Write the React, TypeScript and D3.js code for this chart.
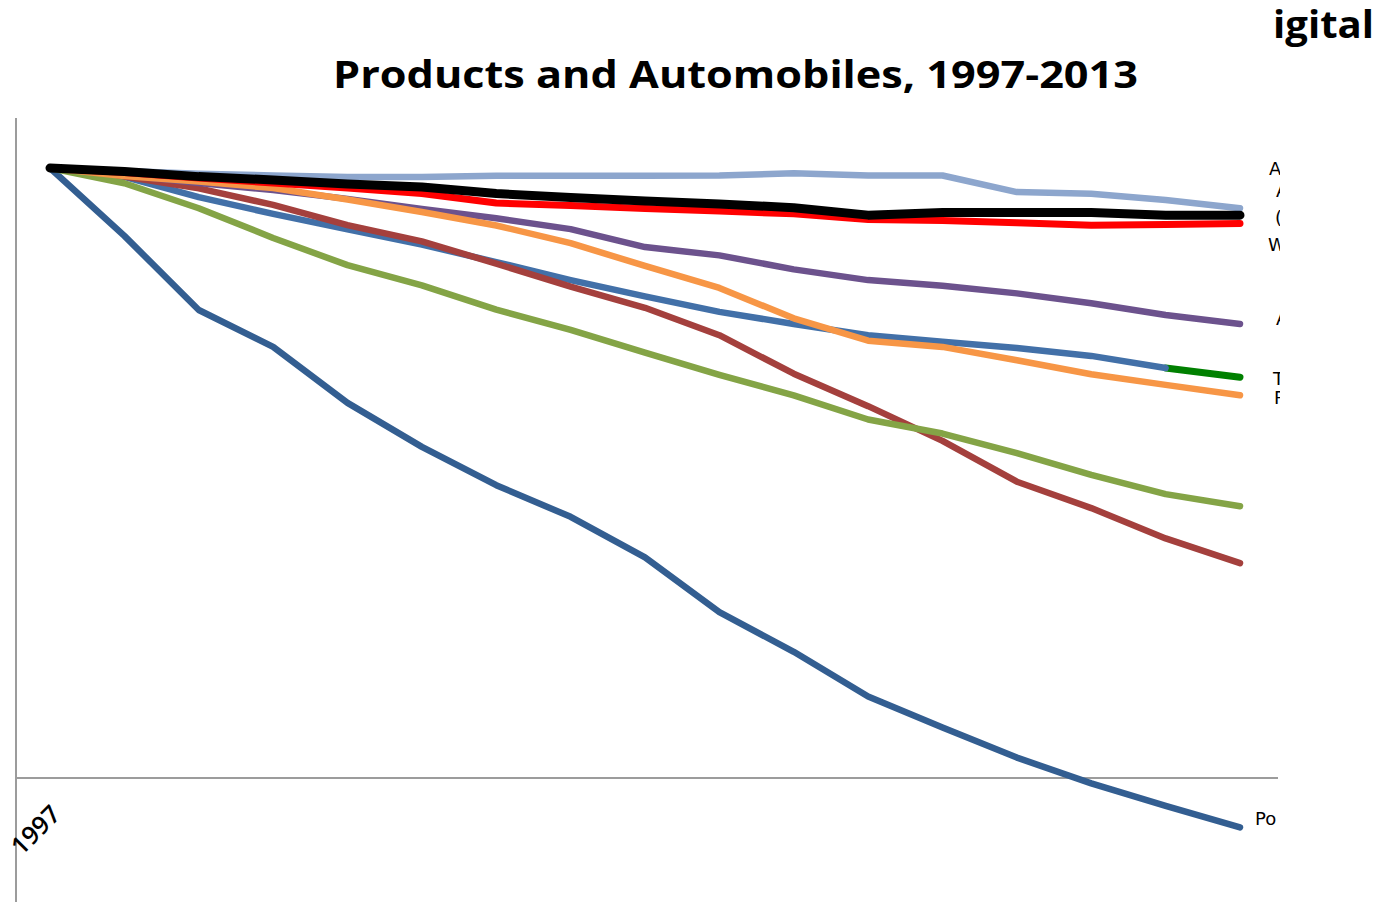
import React from "react";
import * as d3 from "d3";

// Price indexes, 1997 = 100 (log scale)
const years = d3.range(1997, 2014);

const seriesLightBlue = [100, 98.9, 97.9, 97.2, 96.7, 96.7, 97.1, 97.1, 97.1, 97.2, 98.0, 97.2, 97.2, 91.3, 90.7, 88.6, 85.9];
const seriesBlack = [100, 98.7, 96.8, 95.6, 94.1, 93.1, 90.8, 89.5, 88.3, 87.3, 86.1, 83.7, 84.5, 84.5, 84.5, 83.7, 83.7];
const seriesRed = [100, 98.3, 96.3, 94.5, 92.7, 90.8, 87.6, 86.8, 85.8, 85.0, 84.1, 82.3, 82.0, 81.3, 80.6, 80.8, 81.1];
const seriesPurple = [100, 97.4, 94.5, 92.0, 89.0, 85.7, 82.7, 79.4, 74.2, 71.9, 68.2, 65.5, 64.1, 62.3, 60.0, 57.4, 55.5];
const seriesOrange = [100, 97.0, 95.0, 92.7, 88.8, 84.7, 80.5, 75.3, 69.1, 63.6, 56.7, 52.1, 50.9, 48.4, 45.9, 44.1, 42.4];
const seriesSteel = [100, 96.7, 89.6, 84.1, 79.3, 74.9, 70.1, 65.5, 61.6, 58.1, 55.5, 53.2, 51.9, 50.7, 49.2, 47.0];
const seriesGreen = [47.0, 45.4]; // 2012-2013
const seriesBrown = [100, 96.8, 92.6, 87.0, 80.6, 75.8, 69.7, 63.9, 59.0, 53.2, 46.0, 40.7, 35.7, 30.6, 27.7, 24.7, 22.5];
const seriesOlive = [100, 94.4, 85.9, 76.8, 69.3, 64.2, 58.6, 54.3, 49.8, 45.8, 42.4, 38.7, 36.7, 34.1, 31.4, 29.2, 27.9];
const seriesDarkBlue = [100, 77.4, 58.5, 50.9, 41.2, 34.9, 30.2, 26.8, 23.0, 18.7, 16.1, 13.6, 12.1, 10.8, 9.8, 9.0, 8.3];

const titleLine1 = "igital";
const titleLine2 = "Products and Automobiles, 1997-2013";
const firstYearLabel = "1997";

// end labels: left edge and the index level they are centred on
const endLabels = [
  { text: "A", left: 1269, value: 99.8 },
  { text: "A", left: 1276, value: 91.7 },
  { text: "(", left: 1275, value: 83.1 },
  { text: "W", left: 1268, value: 74.9 },
  { text: "A", left: 1276, value: 56.7 },
  { text: "T", left: 1273, value: 45.1 },
  { text: "P", left: 1274, value: 42.0 },
  { text: "Po", left: 1255, value: 8.57 },
];

type Series = { name: string; values: number[]; start: number; color: string; width: number };

// drawing order: first drawn sits underneath
const series: Series[] = [
  { name: "darkblue", values: seriesDarkBlue, start: 1997, color: "#335E91", width: 6.5 },
  { name: "green", values: seriesGreen, start: 2012, color: "#008000", width: 7 },
  { name: "steel", values: seriesSteel, start: 1997, color: "#4270A8", width: 6.5 },
  { name: "brown", values: seriesBrown, start: 1997, color: "#A4403D", width: 6.5 },
  { name: "olive", values: seriesOlive, start: 1997, color: "#84A446", width: 6.5 },
  { name: "purple", values: seriesPurple, start: 1997, color: "#6C528D", width: 6.5 },
  { name: "orange", values: seriesOrange, start: 1997, color: "#F79646", width: 6.5 },
  { name: "lightblue", values: seriesLightBlue, start: 1997, color: "#8DA6CD", width: 6.5 },
  { name: "red", values: seriesRed, start: 1997, color: "#FF0000", width: 7 },
  { name: "black", values: seriesBlack, start: 1997, color: "#000000", width: 9 },
];

const W = 1382;
const H = 902;

export default function App() {
  const x = d3.scaleLinear().domain([1997, 2013]).range([50, 1240]);
  const y = d3.scaleLog().domain([10, 100]).range([778, 168]);

  const line = d3
    .line<[number, number]>()
    .x((d) => x(d[0]))
    .y((d) => y(d[1]));

  return (
    <svg
      width={W}
      height={H}
      style={{ position: "absolute", left: 0, top: 0, background: "#fff" }}
      fontFamily="'DejaVu Sans', sans-serif"
    >
      <defs>
        <clipPath id="plot-clip">
          <rect x={0} y={0} width={1280} height={H} />
        </clipPath>
      </defs>

      {/* title */}
      <text
        x={1273}
        y={38}
        fontFamily="'Open Sans', sans-serif"
        fontWeight={700}
        fontSize={38}
        textLength={101}
        lengthAdjust="spacingAndGlyphs"
        fill="#000"
      >
        {titleLine1}
      </text>
      <text
        x={333}
        y={88}
        fontFamily="'Open Sans', sans-serif"
        fontWeight={700}
        fontSize={37}
        textLength={805}
        lengthAdjust="spacingAndGlyphs"
        fill="#000"
      >
        {titleLine2}
      </text>

      {/* axes */}
      <line x1={16} x2={16} y1={118} y2={H} stroke="#9C9C9C" strokeWidth={2} />
      <line x1={16} x2={1278} y1={y(10)} y2={y(10)} stroke="#9C9C9C" strokeWidth={2} />

      {/* category label */}
      <text
        transform={`translate(${x(years[0]) + 12},${y(10) + 38}) rotate(-45)`}
        textAnchor="end"
        fontFamily="'Open Sans', sans-serif"
        fontWeight={600}
        fontSize={25}
        fill="#000"
      >
        {firstYearLabel}
      </text>

      {/* series */}
      <g fill="none" strokeLinecap="round" strokeLinejoin="round">
        {series.map((s) => {
          const pts = s.values.map((v, i) => [s.start + i, v] as [number, number]);
          return (
            <path key={s.name} d={line(pts) || ""} stroke={s.color} strokeWidth={s.width} />
          );
        })}
      </g>

      {/* end labels */}
      <g clipPath="url(#plot-clip)" fontSize={18} fill="#000">
        {endLabels.map((l, i) => (
          <text key={i} x={l.left} y={y(l.value)} dy="0.36em">
            {l.text}
          </text>
        ))}
      </g>
    </svg>
  );
}
